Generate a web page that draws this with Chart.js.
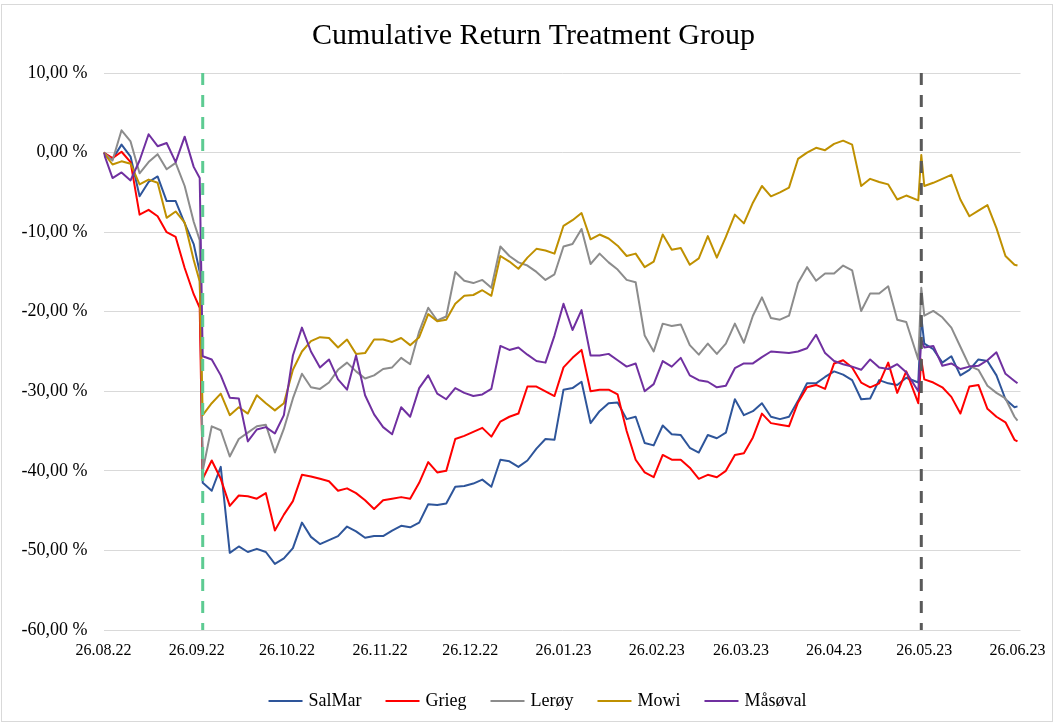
<!DOCTYPE html>
<html>
<head>
<meta charset="utf-8">
<script src="https://cdn.jsdelivr.net/npm/chart.js@4/dist/chart.umd.min.js"></script>
<style>
html,body{margin:0;padding:0;background:#fff;}
#wrap{width:1059px;height:724px;}
</style>
</head>
<body>
<div id="wrap"><canvas id="c" width="1059" height="724"></canvas></div>
<script>
const FONT = "'Liberation Serif', 'Times New Roman', serif";
const TITLE = 'Cumulative Return Treatment Group';

// x axis: days since 26.08.22
const tickDays   = [0, 31, 61, 92, 122, 153, 184, 212, 243, 273, 304];
const tickLabels = ['26.08.22','26.09.22','26.10.22','26.11.22','26.12.22','26.01.23','26.02.23','26.03.23','26.04.23','26.05.23','26.06.23'];

const days = [0,3,6,9,12,15,18,21,24,27,30,32,33,36,39,42,45,48,51,54,57,60,63,66,69,72,75,78,81,84,87,90,93,96,99,102,105,108,111,114,117,120,123,126,129,132,135,138,141,144,147,150,153,156,159,162,165,168,171,174,177,180,183,186,189,192,195,198,201,204,207,210,213,216,219,222,225,228,231,234,237,240,243,246,249,252,255,258,261,264,267,271,272,273,276,279,282,285,288,291,294,297,300,303,304];

const salmar = [0,-0.8,1.0,-0.5,-5.5,-3.7,-3.0,-6.1,-6.1,-8.9,-11.5,-15.0,
-41.5,-42.5,-39.5,-50.3,-49.5,-50.2,-49.8,-50.2,-51.7,-51.0,-49.7,-46.5,-48.3,-49.2,-48.7,-48.2,-47.0,-47.6,-48.4,-48.2,-48.2,-47.5,-46.9,-47.1,-46.5,-44.2,-44.3,-44.1,-42.0,-41.9,-41.6,-41.1,-42.0,-38.6,-38.8,-39.5,-38.7,-37.2,-36.0,-36.1,-29.8,-29.6,-28.8,-34.0,-32.5,-31.5,-31.4,-33.5,-33.2,-36.5,-36.8,-34.3,-35.4,-35.5,-37.1,-37.7,-35.5,-35.9,-35.2,-31.0,-33.0,-32.5,-31.5,-33.2,-33.5,-33.2,-31.2,-29.0,-29.0,-28.2,-27.5,-27.9,-28.6,-31.0,-30.9,-28.6,-29.0,-29.2,-28.3,-28.9,-20.6,-24.0,-24.7,-26.4,-25.6,-28.0,-27.3,-26.0,-26.2,-28.0,-31.0,-32.0,-31.9];

const grieg = [0,-0.7,0.1,-1.2,-7.8,-7.2,-8.0,-10.0,-10.6,-14.5,-17.8,-19.5,
-41.0,-38.7,-41.0,-44.4,-43.1,-43.2,-43.5,-42.8,-47.5,-45.5,-43.8,-40.5,-40.7,-41.0,-41.3,-42.5,-42.2,-42.8,-43.7,-44.8,-43.7,-43.5,-43.3,-43.5,-41.5,-38.9,-40.2,-40.0,-36.0,-35.6,-35.1,-34.6,-35.7,-33.8,-33.2,-32.8,-29.4,-29.4,-30.0,-30.6,-27.0,-25.8,-24.8,-30.0,-29.8,-29.8,-30.4,-35.0,-38.6,-40.2,-40.8,-38.0,-38.6,-38.6,-39.6,-41.0,-40.5,-40.8,-40.0,-38.0,-37.8,-35.8,-32.8,-34.0,-34.2,-34.4,-31.4,-29.5,-29.2,-29.7,-26.5,-26.1,-27.0,-28.9,-29.5,-29.0,-26.4,-30.2,-27.5,-31.5,-26.0,-28.5,-28.9,-29.5,-30.7,-32.8,-29.4,-29.2,-32.2,-33.2,-33.9,-36.1,-36.3];

const leroy = [0,-1.0,2.8,1.4,-2.6,-1.2,-0.2,-2.1,-1.3,-4.2,-8.7,-11.0,
-40.0,-34.4,-34.9,-38.2,-36.0,-35.2,-34.4,-34.2,-37.7,-34.7,-30.9,-27.8,-29.5,-29.7,-28.9,-27.3,-26.4,-27.5,-28.4,-28.0,-27.2,-27.0,-25.8,-26.6,-22.5,-19.5,-21.1,-20.6,-15.0,-16.1,-16.4,-16.0,-17.0,-11.8,-13.0,-13.8,-14.2,-15.0,-16.0,-15.3,-11.8,-11.5,-9.6,-14.0,-12.7,-13.8,-14.7,-16.0,-16.3,-23.0,-25.0,-21.5,-21.8,-21.6,-24.2,-25.4,-24.0,-25.3,-24.0,-21.5,-23.9,-20.5,-18.2,-20.8,-21.0,-20.5,-16.4,-14.4,-16.1,-15.2,-15.2,-14.2,-14.8,-19.9,-17.7,-17.7,-16.8,-21.0,-21.3,-26.0,-17.0,-20.5,-19.9,-20.7,-22.0,-24.4,-26.8,-27.3,-29.3,-30.2,-30.9,-33.2,-33.7];

const mowi = [0,-1.5,-1.1,-1.4,-4.0,-3.4,-3.8,-8.2,-7.4,-8.8,-13.5,-16.2,
-33.0,-31.5,-30.3,-33.0,-32.0,-32.8,-30.5,-31.5,-32.4,-31.5,-27.3,-25.0,-23.7,-23.2,-23.3,-24.5,-23.5,-25.3,-25.2,-23.5,-23.5,-23.8,-23.3,-24.2,-23.2,-20.3,-21.2,-21.0,-19.0,-18.0,-17.9,-17.3,-18.0,-13.0,-13.7,-14.6,-13.2,-12.1,-12.3,-12.7,-9.2,-8.5,-7.6,-10.9,-10.3,-10.8,-11.7,-13.0,-12.7,-14.4,-13.7,-10.3,-12.2,-12.0,-14.1,-13.3,-10.5,-13.2,-10.6,-7.8,-8.9,-6.3,-4.2,-5.5,-5.0,-4.4,-0.8,0.0,0.6,0.3,1.1,1.5,1.0,-4.2,-3.3,-3.7,-4.0,-5.9,-5.4,-6.0,-0.3,-4.2,-3.8,-3.3,-2.8,-5.9,-8.0,-7.3,-6.6,-9.5,-13.0,-14.1,-14.2];

const masoval = [0,-3.2,-2.5,-3.5,-1.0,2.3,0.8,1.2,-1.2,2.0,-1.8,-3.2,
-25.6,-26.0,-28.0,-30.8,-30.9,-36.3,-34.8,-34.5,-35.3,-33.0,-25.5,-22.0,-25.0,-27.0,-26.0,-28.5,-29.8,-25.5,-30.5,-32.9,-34.5,-35.4,-32.0,-33.2,-29.6,-28.0,-30.3,-31.0,-29.6,-30.2,-30.6,-30.4,-29.7,-24.3,-24.8,-24.5,-25.4,-26.2,-26.4,-23.0,-19.0,-22.3,-19.8,-25.5,-25.5,-25.3,-26.1,-26.9,-26.5,-30.0,-29.1,-26.2,-26.9,-25.8,-28.0,-28.6,-28.8,-29.5,-29.3,-27.1,-26.5,-26.5,-25.7,-25.0,-25.1,-25.2,-25.0,-24.6,-22.9,-25.2,-26.2,-26.6,-26.9,-27.3,-26.0,-27.0,-27.2,-26.6,-27.6,-30.0,-23.5,-24.5,-24.3,-26.8,-26.5,-27.2,-26.9,-26.8,-26.1,-25.1,-27.8,-28.7,-29.0];

const seriesNames  = ['SalMar', 'Grieg', 'Lerøy', 'Mowi', 'Måsøval'];
const seriesValues = [salmar, grieg, leroy, mowi, masoval];
const seriesColors = ['#2E559A', '#FF0000', '#8C8C8C', '#BF9000', '#7030A0'];

// event markers (days since 26.08.22)
const eventDays   = [33, 272];
const eventColors = ['#5DCB92', '#595959'];

const datasets = seriesNames.map((name, k) => ({
  label: name,
  data: days.map((d, i) => ({x: d, y: seriesValues[k][i]})),
  borderColor: seriesColors[k],
  backgroundColor: seriesColors[k],
  borderWidth: 2,
  pointRadius: 0,
  tension: 0,
  borderJoinStyle: 'round',
  fill: false,
  order: seriesNames.length - k
}));

const framePlugin = {
  id: 'frame',
  beforeDraw(chart) {
    const ctx = chart.ctx;
    ctx.save();
    ctx.fillStyle = '#fff';
    ctx.fillRect(0, 0, chart.width, chart.height);
    ctx.strokeStyle = '#D9D9D9';
    ctx.lineWidth = 1;
    ctx.strokeRect(1.5, 4.5, 1051, 717);
    ctx.restore();
  }
};

const markerPlugin = {
  id: 'markers',
  afterDatasetsDraw(chart) {
    const ctx = chart.ctx, xs = chart.scales.x, a = chart.chartArea;
    ctx.save();
    eventDays.forEach((d, i) => {
      const x = xs.getPixelForValue(d);
      ctx.strokeStyle = eventColors[i];
      ctx.lineWidth = 3;
      ctx.setLineDash([12, 10]);
      ctx.beginPath();
      ctx.moveTo(x, a.top);
      ctx.lineTo(x, a.bottom);
      ctx.stroke();
    });
    ctx.restore();
  }
};

const textPlugin = {
  id: 'texts',
  afterDraw(chart) {
    const ctx = chart.ctx;
    ctx.save();
    ctx.fillStyle = '#000';
    ctx.textBaseline = 'middle';
    ctx.textAlign = 'center';
    ctx.font = "30px " + FONT;
    ctx.fillText(TITLE, 533.5, 36);

    // legend
    ctx.font = "18px " + FONT;
    const lineLen = 34, gap = 6, itemGap = 24;
    const widths = seriesNames.map(n => ctx.measureText(n).width);
    let total = 0;
    widths.forEach(w => total += lineLen + gap + w);
    total += itemGap * (seriesNames.length - 1);
    let x = 537.5 - total / 2;
    const y = 701;
    ctx.textAlign = 'left';
    seriesNames.forEach((n, i) => {
      ctx.strokeStyle = seriesColors[i];
      ctx.lineWidth = 2;
      ctx.beginPath();
      ctx.moveTo(x, y);
      ctx.lineTo(x + lineLen, y);
      ctx.stroke();
      ctx.fillText(n, x + lineLen + gap, y);
      x += lineLen + gap + widths[i] + itemGap;
    });
    ctx.restore();
  }
};

new Chart(document.getElementById('c'), {
  type: 'line',
  data: {datasets},
  plugins: [framePlugin, markerPlugin, textPlugin],
  options: {
    responsive: false,
    animation: false,
    devicePixelRatio: 1,
    layout: {padding: {top: 73, left: 4, right: 38.5, bottom: 54}},
    plugins: {legend: {display: false}, title: {display: false}, tooltip: {enabled: false}},
    scales: {
      x: {
        type: 'linear', min: 0, max: 305,
        grid: {display: false}, border: {display: false},
        afterBuildTicks: s => { s.ticks = tickDays.map(v => ({value: v})); },
        afterFit: s => { s.height = 40; },
        ticks: {
          autoSkip: false, maxRotation: 0, minRotation: 0, padding: 3, color: '#000',
          font: {family: FONT, size: 16},
          callback: v => tickLabels[tickDays.indexOf(v)]
        }
      },
      y: {
        min: -60, max: 10,
        grid: {color: '#D9D9D9', lineWidth: 1, drawTicks: false},
        border: {display: false},
        afterFit: s => { s.width = 99.5; },
        ticks: {
          stepSize: 10, padding: 16, color: '#000',
          font: {family: FONT, size: 18},
          callback: v => v.toFixed(2).replace('.', ',') + ' %'
        }
      }
    }
  }
});
</script>
</body>
</html>
